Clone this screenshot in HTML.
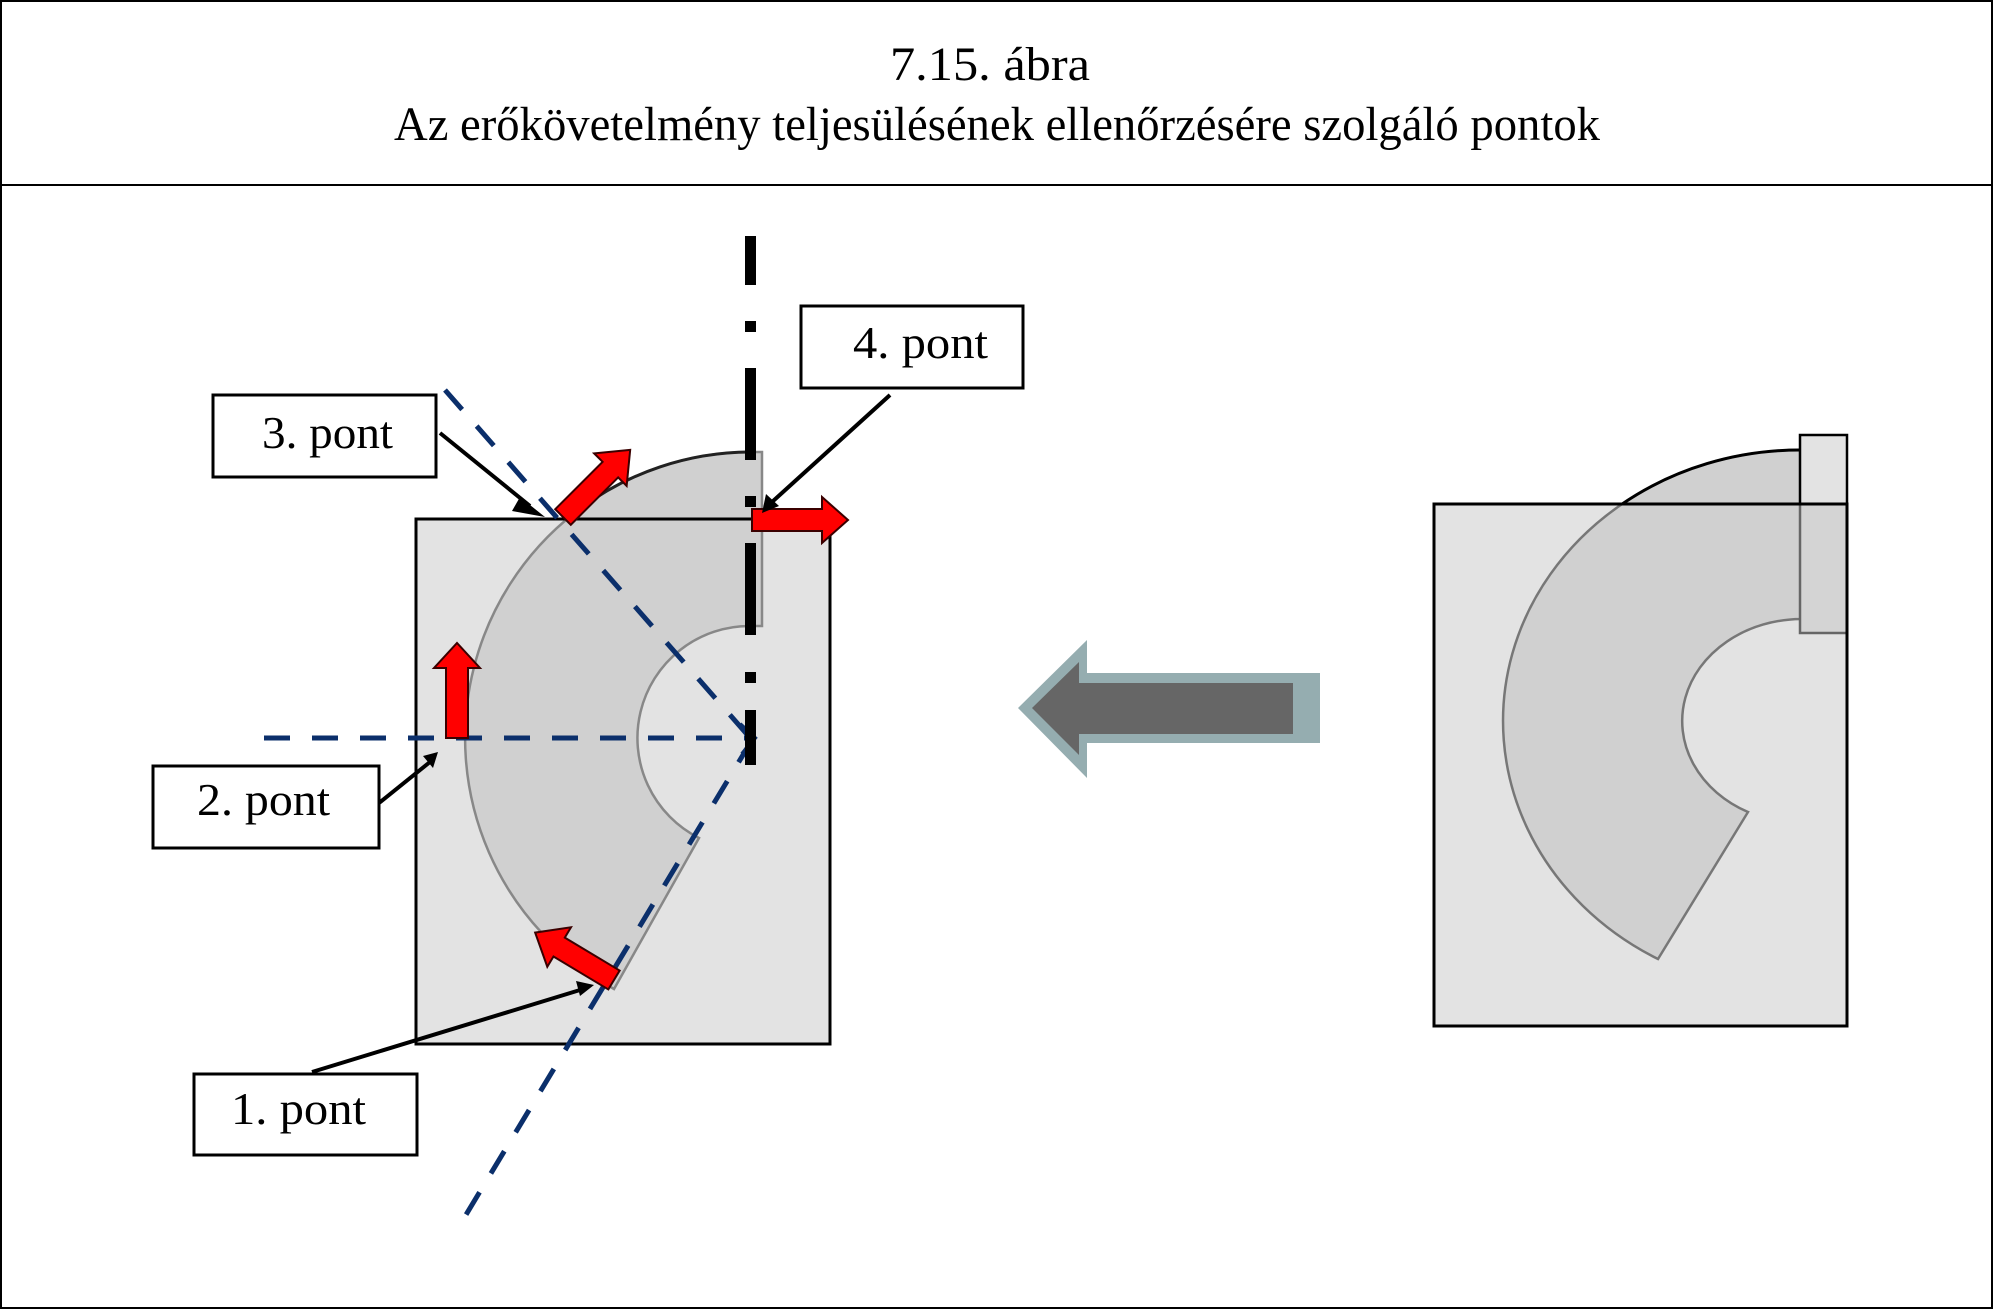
<!DOCTYPE html>
<html><head><meta charset="utf-8"><style>
html,body{margin:0;padding:0;background:#fff}
svg{display:block}
text{font-family:"Liberation Serif",serif;fill:#000}
</style></head><body>
<svg width="1993" height="1309" viewBox="0 0 1993 1309" xmlns="http://www.w3.org/2000/svg">
<defs>
<clipPath id="above"><rect x="0" y="0" width="1993" height="519"/></clipPath>
<clipPath id="aboveR"><rect x="0" y="0" width="1993" height="504"/></clipPath>
</defs>
<rect x="1" y="1" width="1991" height="1307" fill="#fff" stroke="#000" stroke-width="2"/>
<line x1="0" y1="185" x2="1993" y2="185" stroke="#000" stroke-width="2"/>
<text x="990" y="80" font-size="48" text-anchor="middle" textLength="200" lengthAdjust="spacingAndGlyphs">7.15. ábra</text>
<text x="997" y="140" font-size="48" text-anchor="middle" textLength="1206" lengthAdjust="spacingAndGlyphs">Az erőkövetelmény teljesülésének ellenőrzésére szolgáló pontok</text>

<!-- LEFT FIGURE -->
<rect x="416" y="519" width="414" height="525" fill="#e3e3e3" stroke="none"/>
<path d="M762,452 L750,452 A286,286 0 0 0 614,989 L699,838 A112,112 0 0 1 750,626 L762,626 Z" fill="#d0d0d0" stroke="#888" stroke-width="2.5"/>
<path d="M750,452 A286,286 0 0 0 614,989" fill="none" stroke="#222" stroke-width="3" clip-path="url(#above)"/>
<rect x="416" y="519" width="414" height="525" fill="none" stroke="#000" stroke-width="3"/>

<!-- dashed blue lines -->
<g stroke="#0b2f6b" stroke-width="5" fill="none" stroke-dasharray="26,22">
<line x1="264" y1="738" x2="752" y2="738"/>
<line x1="445" y1="390" x2="752" y2="740"/>
<line x1="752" y1="740" x2="455" y2="1233"/>
</g>
<path d="M740,724 L755,738 L742,754" stroke="#0b2f6b" stroke-width="4" fill="none"/>

<!-- dash-dot vertical -->
<g fill="#000">
<rect x="745" y="236" width="11" height="49"/>
<rect x="745" y="321" width="11" height="11"/>
<rect x="745" y="368" width="11" height="92"/>
<rect x="745" y="496" width="11" height="11"/>
<rect x="745" y="543" width="11" height="92"/>
<rect x="745" y="672" width="11" height="11"/>
<rect x="745" y="710" width="11" height="55"/>
</g>

<!-- red arrows -->
<g fill="#ff0000" stroke="#3a0000" stroke-width="2">
<polygon transform="translate(563,517) rotate(-45)" points="0,-11 67,-11 67,-23 95,0 67,23 67,11 0,11"/>
<polygon transform="translate(752,520) rotate(0)" points="0,-11 70,-11 70,-23 96,0 70,23 70,11 0,11"/>
<polygon transform="translate(457,738) rotate(-90)" points="0,-11 70,-11 70,-23 95,0 70,23 70,11 0,11"/>
<polygon transform="translate(614,980) rotate(211)" points="0,-11 64,-11 64,-23 92,0 64,23 64,11 0,11"/>
</g>

<!-- leader lines -->
<g stroke="#000" stroke-width="4" fill="#000">
<line x1="440" y1="433" x2="530" y2="506"/>
<polygon stroke="none" points="545,517 520,497 512,511"/>
<line x1="890" y1="395" x2="772" y2="502"/>
<polygon stroke="none" points="762,513 766,494 779,506"/>
<line x1="379" y1="803" x2="430" y2="762"/>
<polygon stroke="none" points="438,752 423,756 433,768"/>
<line x1="312" y1="1072" x2="580" y2="990"/>
<polygon stroke="none" points="594,985 576,981 580,996"/>
</g>

<!-- labels -->
<g fill="#fff" stroke="#000" stroke-width="3">
<rect x="213" y="395" width="223" height="82"/>
<rect x="801" y="306" width="222" height="82"/>
<rect x="153" y="766" width="226" height="82"/>
<rect x="194" y="1074" width="223" height="81"/>
</g>
<text x="262" y="448" font-size="46" textLength="131" lengthAdjust="spacingAndGlyphs">3. pont</text>
<text x="853" y="358" font-size="46" textLength="135" lengthAdjust="spacingAndGlyphs">4. pont</text>
<text x="197" y="815" font-size="46" textLength="133" lengthAdjust="spacingAndGlyphs">2. pont</text>
<text x="231" y="1124" font-size="46" textLength="135" lengthAdjust="spacingAndGlyphs">1. pont</text>

<!-- big arrow -->
<polygon points="1018,708 1087,640 1087,673 1320,673 1320,743 1087,743 1087,778" fill="#95adb0"/>
<polygon points="1032,708 1079,662 1079,683 1293,683 1293,734 1079,734 1079,755" fill="#666"/>

<!-- RIGHT FIGURE -->
<rect x="1434" y="504" width="413" height="522" fill="#e3e3e3"/>
<path d="M1801,450 A297,271 0 0 0 1658,959 L1748,812 A120,102 0 0 1 1801,619 Z" fill="#d0d0d0" stroke="#777" stroke-width="2.5"/>
<path d="M1801,450 A297,271 0 0 0 1658,959" fill="none" stroke="#000" stroke-width="3" clip-path="url(#aboveR)"/>
<rect x="1800" y="504" width="47" height="129" fill="#d4d4d4" stroke="#666" stroke-width="2.5"/>
<rect x="1800" y="435" width="47" height="69" fill="#e3e3e3" stroke="#000" stroke-width="2.5"/>
<rect x="1434" y="504" width="413" height="522" fill="none" stroke="#000" stroke-width="3"/>
</svg>
</body></html>
